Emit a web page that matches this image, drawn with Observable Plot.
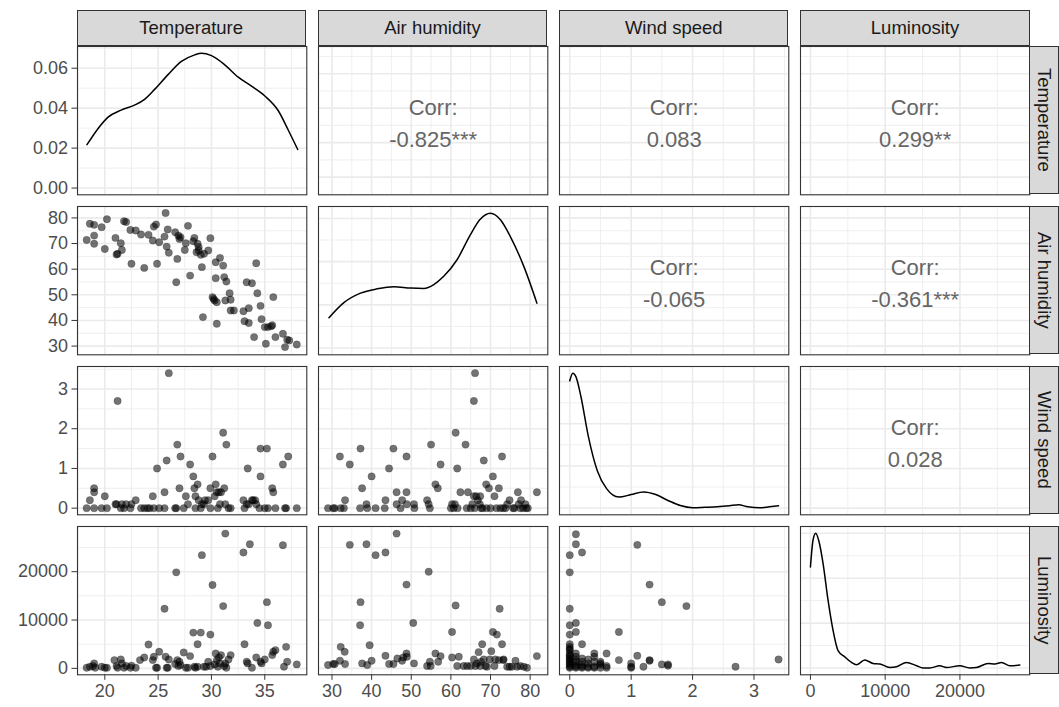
<!DOCTYPE html>
<html><head><meta charset="utf-8">
<script src="https://cdn.jsdelivr.net/npm/d3@7"></script>
<script src="https://cdn.jsdelivr.net/npm/@observablehq/plot@0.6"></script>
<style>
body{margin:0;background:#fff;font-family:"Liberation Sans",Arial,sans-serif;}
#chart{position:relative;width:1059px;height:707px;overflow:hidden;background:#fff;}
.strip{position:absolute;box-sizing:border-box;background:#d9d9d9;border:1px solid #333333;display:flex;align-items:center;justify-content:center;font-size:18.5px;color:#1a1a1a;font-family:"Liberation Sans",Arial,sans-serif;}
.strip.v{writing-mode:vertical-rl;}
#chart svg{position:absolute;overflow:visible;}
</style></head><body><div id="chart"></div>
<script>
// ---------- data ----------
const variables = ["Temperature", "Air humidity", "Wind speed", "Luminosity"];

const tempTicks = [20, 25, 30, 35];
const humTicks = [30, 40, 50, 60, 70, 80];
const windTicks = [0, 1, 2, 3];
const lumTicks = [0, 10000, 20000];
const densTicks = [0, 0.02, 0.04, 0.06];

const corrValues = ["-0.825***", "0.083", "0.299**", "-0.065", "-0.361***", "0.028"];
const corrPairs = [[0,1],[0,2],[0,3],[1,2],[1,3],[2,3]];

const tempDensity = [[18.33,0.0217],[19.34,0.0296],[20.28,0.0354],[21.53,0.039],[22.78,0.0415],[23.73,0.0444],[24.67,0.0494],[25.93,0.0568],[27.18,0.0634],[28.43,0.0667],[29.06,0.0675],[30.0,0.0663],[31.25,0.0617],[32.51,0.0555],[33.76,0.051],[35.01,0.0461],[36.27,0.0387],[37.22,0.0288],[38.09,0.0193]];
const humDensity = [[29.24,0.0070],[33.0,0.0105],[37.2,0.0127],[41.4,0.0137],[45.6,0.0142],[49.8,0.0139],[53.2,0.0138],[55.7,0.0147],[58.2,0.0166],[61.6,0.0205],[64.9,0.0262],[67.4,0.0298],[70.0,0.0312],[72.5,0.0297],[75.0,0.0258],[78.4,0.0189],[81.7,0.0104]];
const windDensity = [[0,1.51],[0.05,1.60],[0.1,1.56],[0.18,1.33],[0.3,0.86],[0.45,0.44],[0.6,0.23],[0.8,0.13],[1.0,0.16],[1.2,0.19],[1.4,0.16],[1.6,0.09],[1.8,0.03],[2.0,0.004],[2.2,0.009],[2.4,0.015],[2.6,0.027],[2.75,0.039],[2.9,0.015],[3.1,0.004],[3.25,0.015],[3.4,0.027]];
const lumDensity = [[0,2.25e-4],[348,2.85e-4],[710,3.0e-4],[1151,2.81e-4],[1687,2.33e-4],[2356,1.51e-4],[3025,0.84e-4],[3695,0.39e-4],[4592,0.25e-4],[5489,0.125e-4],[6158,0.074e-4],[7269,0.179e-4],[8380,0.103e-4],[9277,0.09e-4],[10616,0.013e-4],[11513,0.029e-4],[12851,0.125e-4],[14190,0.051e-4],[15074,0.003e-4],[15971,0.003e-4],[17309,0.051e-4],[18206,0.013e-4],[19987,0.051e-4],[21325,0.003e-4],[22222,0.013e-4],[23775,0.103e-4],[24672,0.09e-4],[25569,0.125e-4],[26680,0.051e-4],[28019,0.067e-4]];

const tempHum = [[18.3,71.4],[18.6,77.7],[19.0,77.3],[19.0,73.1],[19.0,69.9],[19.7,76.4],[20.0,67.9],[20.2,79.5],[21.0,72.2],[21.1,65.7],[21.2,66.0],[21.5,70.1],[21.6,67.5],[21.8,78.7],[22.0,78.4],[22.4,75.3],[22.5,62.1],[22.9,75.1],[23.4,73.5],[23.7,60.5],[24.1,73.4],[24.5,71.2],[24.6,76.6],[24.8,77.4],[24.9,62.1],[25.1,70.5],[25.6,72.7],[25.7,81.9],[25.8,68.8],[25.9,75.5],[26.0,66.4],[26.6,74.4],[26.7,54.9],[26.8,64.0],[26.9,73.1],[27.0,71.8],[27.1,72.5],[27.5,67.5],[27.6,70.1],[27.8,76.9],[28.0,57.5],[28.3,70.9],[28.4,72.2],[28.6,66.6],[28.7,69.9],[28.8,68.6],[28.8,67.3],[29.0,65.6],[29.1,60.8],[29.2,41.3],[29.3,66.0],[29.7,67.3],[29.9,72.1],[30.1,49.1],[30.3,47.8],[30.4,62.7],[30.4,56.5],[30.5,38.7],[30.8,64.4],[31.1,61.4],[31.2,56.9],[31.3,47.8],[31.4,55.2],[31.7,50.6],[31.8,48.1],[31.8,43.9],[33.0,43.6],[33.1,39.7],[33.3,54.9],[33.5,44.8],[33.5,39.0],[33.8,54.5],[34.0,33.5],[34.2,62.3],[34.3,50.6],[34.6,45.7],[34.7,40.5],[35.0,37.4],[35.1,30.9],[35.3,37.4],[35.6,37.7],[35.7,38.1],[35.8,49.1],[36.0,33.5],[36.7,34.8],[36.9,29.6],[37.1,32.5],[37.3,32.2],[38.0,30.6],[30.2,48.4],[30.5,47.1],[32.1,43.9]];

const tempWind = [[18.3,0],[18.6,0.2],[19.0,0.5],[19.0,0.4],[19.0,0],[19.7,0],[20.0,0.3],[20.2,0],[21.0,0.1],[21.1,0.1],[21.2,2.7],[21.5,0],[21.6,0.1],[21.8,0],[22.0,0.1],[22.4,0],[22.5,0.1],[22.9,0.2],[23.4,0],[23.7,0],[24.0,0],[24.2,0],[24.5,0.3],[24.6,0],[24.9,1.0],[25.1,0],[25.6,0],[25.6,0.4],[25.8,1.2],[26.0,3.4],[26.6,0],[26.7,0],[26.8,1.6],[27.0,0.5],[27.1,1.3],[27.4,0],[27.6,0.3],[27.8,0.1],[28.0,1.1],[28.3,0.8],[28.4,0.5],[28.5,0.3],[28.7,0.6],[28.8,0.2],[29.0,0],[29.1,0.1],[29.3,0.1],[29.4,0.2],[29.7,0.2],[29.9,0],[30.1,1.3],[30.3,0.3],[30.4,0.6],[30.5,0.4],[30.6,0],[30.7,0.4],[30.8,0.1],[30.9,0.4],[31.1,1.9],[31.2,0.5],[31.3,0.1],[31.4,1.6],[31.6,0],[31.8,0],[33.0,0.2],[33.1,0],[33.3,0.1],[33.4,1.0],[33.5,0.1],[33.8,0.2],[33.9,0.2],[34.1,0.2],[34.2,0.1],[34.5,0],[34.6,0.8],[34.6,1.5],[35.2,1.5],[35.0,0],[35.3,0],[35.7,0.5],[35.8,0.4],[36.0,0],[36.7,1.1],[36.9,0],[37.0,0],[37.2,1.3],[38.0,0],[29.9,0.5],[28.5,0]];

const tempLum = [[18.3,137],[18.6,342],[18.9,480],[19.0,1027],[19.1,137],[19.7,342],[20.0,137],[20.2,137],[20.9,1712],[21.1,480],[21.2,137],[21.5,1850],[21.6,1027],[21.8,137],[22.0,480],[22.4,137],[22.5,548],[22.9,137],[23.3,1712],[23.7,2260],[24.1,4932],[24.5,1712],[24.6,2397],[24.8,137],[24.9,137],[25.1,3425],[25.6,12330],[25.7,2397],[25.8,137],[25.9,137],[26.0,1850],[26.6,890],[26.7,19865],[26.8,1712],[26.9,480],[27.0,1370],[27.1,685],[27.4,3288],[27.6,137],[27.8,137],[28.0,2534],[28.3,7398],[28.4,342],[28.5,137],[28.7,5000],[28.7,342],[29.0,7398],[29.1,23427],[29.3,342],[29.5,342],[29.7,1370],[29.9,6987],[29.9,480],[30.1,17262],[30.3,822],[30.4,3082],[30.5,1712],[30.6,342],[30.7,2260],[30.8,1027],[30.9,2740],[31.1,12878],[31.2,480],[31.3,27880],[31.3,1027],[31.4,137],[31.6,1850],[31.8,2740],[33.0,23975],[33.1,5000],[33.3,1370],[33.4,1027],[33.6,25690],[33.8,137],[34.2,2260],[34.3,9385],[34.6,1370],[34.7,1027],[35.0,1850],[35.2,13700],[35.3,8905],[35.7,2740],[35.8,3425],[36.0,3767],[36.7,25482],[36.8,342],[37.0,4452],[37.1,1370],[38.0,822]];

const humWind = [[29.0,0],[30.3,0],[30.7,0],[32.2,0],[32.0,1.3],[33.0,0],[33.3,0.2],[34.5,1.1],[37.1,0],[37.2,1.5],[37.6,0.5],[38.7,0.1],[38.9,0],[40.0,0.8],[41.0,0],[43.3,0],[43.5,0.2],[44.4,1.0],[45.5,1.5],[46.3,0.4],[46.3,0.1],[47.3,0],[47.7,0.2],[48.8,0.4],[48.8,1.3],[48.9,0.1],[50.7,0.1],[50.8,0],[54.0,0.2],[54.4,0.1],[54.7,0],[55.0,1.6],[56.1,0.6],[56.7,0.5],[57.4,1.1],[60.3,0.1],[60.7,0],[61.2,1.9],[61.6,1.0],[61.7,0],[62.4,0.4],[63.7,1.6],[64.3,0.4],[65.0,0],[65.4,0.1],[65.8,2.7],[66.1,3.4],[66.4,0.3],[66.8,0.2],[67.3,0.1],[67.6,0],[68.3,1.2],[68.9,0.6],[69.6,0.5],[70.0,0],[70.6,0.8],[71.0,0.3],[71.5,0],[72.1,0.5],[72.5,0],[72.9,1.3],[73.2,0],[74.2,0.1],[74.8,0.2],[75.7,0],[76.9,0.4],[77.1,0.1],[77.7,0.2],[78.2,0],[78.8,0.1],[79.4,0],[81.7,0.4],[65.8,0.3],[67.4,0.3],[64.0,0],[66.0,0],[68.0,0],[69.0,0],[73.8,0],[76.0,0],[77.5,0],[79.0,0],[60.0,0],[61.0,0.1]];

const humLum = [[29.0,685],[30.3,890],[30.7,890],[32.0,1575],[32.2,4452],[33.2,3425],[33.3,890],[34.5,25550],[37.1,8905],[37.2,13700],[37.6,1027],[38.7,25690],[38.9,685],[39.5,4795],[40.0,1575],[41.0,23427],[43.5,23975],[43.5,2603],[44.4,890],[45.5,890],[46.3,27880],[46.5,2055],[47.7,1575],[48.0,2260],[48.8,3082],[48.8,17330],[48.9,2397],[50.5,9385],[50.7,1027],[54.0,480],[54.4,20002],[54.7,1370],[54.9,480],[56.1,3082],[56.8,1370],[57.4,2534],[60.3,7535],[60.3,2260],[61.2,13015],[61.6,480],[62.0,2397],[63.2,480],[64.1,480],[65.0,480],[65.8,1850],[66.2,480],[67.0,3356],[67.4,480],[67.9,5000],[68.3,1850],[68.7,480],[69.1,342],[69.8,1850],[70.2,3562],[70.6,7535],[71.0,480],[71.2,1850],[71.6,6987],[72.1,1712],[72.3,12330],[72.9,5000],[73.2,1712],[73.3,1850],[74.2,342],[74.8,342],[75.4,342],[76.3,1575],[76.7,342],[77.5,480],[78.4,342],[79.2,137],[81.7,2534],[66.6,1027],[67.6,1370]];

const windLum = [[0.1,27742],[0.1,25690],[0,23427],[0.2,23975],[0,19865],[0,12330],[0,8905],[0,6987],[0.1,9385],[0.1,7535],[0.2,5000],[0,5000],[0,4452],[0,3767],[0,3082],[0,2397],[0,1712],[0,1027],[0,342],[0.1,2397],[0.1,1370],[0.1,342],[0.2,1370],[0.2,342],[0.3,1850],[0.3,342],[0.4,3082],[0.4,2397],[0.4,1370],[0.4,342],[0.5,1370],[0.5,685],[0.6,3082],[0.6,480],[0.8,1712],[0.8,7535],[1.0,1027],[1.0,342],[1.1,25550],[1.1,2603],[1.2,342],[1.3,17330],[1.3,1575],[1.3,1712],[1.5,822],[1.5,13700],[1.6,822],[1.6,548],[1.9,12878],[2.7,342],[3.4,1850],[0,4000],[0,2700],[0,2000],[0,1370],[0,685],[0.1,3082],[0.1,1712],[0.1,685],[0.2,685],[0.2,2055],[0.3,1027],[0.5,1027],[0,137],[0.1,137],[0.2,137],[0.3,137],[0.4,137],[0.5,137],[0.6,137],[1.0,137]];

// ---------- scales & layout ----------
const domains = [[17.44, 38.94], [26.6, 84.45], [-0.167, 3.567], [-1330, 29350]];
const majors = [tempTicks, humTicks, windTicks, lumTicks];
const minors = [[17.5,22.5,27.5,32.5,37.5],[35,45,55,65,75],[0.5,1.5,2.5,3.5],[5000,15000,25000]];
const formats = [d3.format("d"), d3.format("d"), d3.format("d"), d3.format("d")];
const densities = [tempDensity, humDensity, windDensity, lumDensity];
const densMajor = [densTicks, [0,0.01,0.02,0.03], [0,0.5,1,1.5], [0,1e-4,2e-4,3e-4]];
const densMinor = [[0.01,0.03,0.05,0.07], [0.005,0.015,0.025], [0.25,0.75,1.25], [5e-5,1.5e-4,2.5e-4]];

const scatter = {"1-0": tempHum, "2-0": tempWind, "3-0": tempLum, "2-1": humWind, "3-1": humLum, "3-2": windLum};
const corrMap = {};
corrPairs.forEach((p, i) => corrMap[p[0] + "-" + p[1]] = corrValues[i]);

const W = 229.3, H = 148.3;
const colX = [76.5, 317.8, 559.1, 800.4];
const rowY = [45.7, 205.7, 365.7, 525.7];
const stripTop = 9.5;
const chart = document.getElementById("chart");
const FONT = "Liberation Sans, Arial, sans-serif";
const gridColor = "#ebebeb";

function panel(r, c) {
  const ml = c === 0 ? 77 : 2, mb = r === 3 ? 36 : 2, mt = 2, mr = 2;
  const diag = r === c;
  let yDom, yMaj, yMin;
  if (diag) {
    const m = d3.max(densities[r], d => d[1]);
    yDom = [-0.05 * m, 1.05 * m];
    yMaj = densMajor[r]; yMin = densMinor[r];
  } else {
    yDom = domains[r]; yMaj = majors[r]; yMin = minors[r];
  }
  const marks = [
    Plot.ruleX(minors[c], {stroke: gridColor, strokeWidth: 0.8}),
    Plot.ruleY(yMin, {stroke: gridColor, strokeWidth: 0.8}),
    Plot.ruleX(majors[c], {stroke: gridColor, strokeWidth: 1.6}),
    Plot.ruleY(yMaj, {stroke: gridColor, strokeWidth: 1.6})
  ];
  if (diag) {
    marks.push(Plot.line(densities[r], {x: d => d[0], y: d => d[1], stroke: "black", strokeWidth: 1.5, curve: "monotone-x"}));
  } else if (r > c) {
    marks.push(Plot.dot(scatter[r + "-" + c], {x: d => d[0], y: d => d[1], r: 3.7, fill: "black", fillOpacity: 0.55, stroke: "black", strokeOpacity: 0.3, strokeWidth: 0.6}));
  } else {
    marks.push(Plot.text(["Corr:\n" + corrMap[r + "-" + c]], {frameAnchor: "middle", text: d => d, fontSize: 22, lineHeight: 1.45, fill: "#666666", fontFamily: FONT}));
  }
  marks.push(Plot.frame({stroke: "#333333", strokeWidth: 1.1}));
  const hasY = c === 0, hasX = r === 3;
  if (hasY) {
    marks.push(Plot.axisY(yMaj, {anchor: "left", tickSize: 5.5, tickPadding: 4, fontSize: 18, stroke: "#333333", fill: "#4d4d4d", label: null,
      tickFormat: r === 0 ? d3.format(".2f") : formats[r]}));
  }
  if (hasX) {
    marks.push(Plot.axisX(majors[c], {anchor: "bottom", tickSize: 5.5, tickPadding: 4, fontSize: 18, stroke: "#333333", fill: "#4d4d4d", label: null, tickFormat: formats[c]}));
  }
  const xOpt = {domain: domains[c]};
  if (!hasX) xOpt.axis = null;
  const yOpt = {domain: yDom};
  if (!hasY) yOpt.axis = null;
  const svg = Plot.plot({
    width: W + ml + mr, height: H + mt + mb,
    marginLeft: ml, marginRight: mr, marginTop: mt, marginBottom: mb,
    x: xOpt, y: yOpt,
    style: {fontFamily: FONT, background: "transparent", overflow: "visible", color: "#4d4d4d"},
    marks
  });
  svg.style.left = (colX[c] - ml) + "px";
  svg.style.top = (rowY[r] - mt) + "px";
  chart.appendChild(svg);
}

for (let r = 0; r < 4; r++) for (let c = 0; c < 4; c++) panel(r, c);

// strips
variables.forEach((v, i) => {
  const t = document.createElement("div");
  t.className = "strip";
  t.style.left = colX[i] + "px"; t.style.top = stripTop + "px";
  t.style.width = W + "px"; t.style.height = (rowY[0] - stripTop + 0.5) + "px";
  t.textContent = v;
  chart.appendChild(t);
  const s = document.createElement("div");
  s.className = "strip v";
  s.style.left = (colX[3] + W - 0.5) + "px"; s.style.top = rowY[i] + "px";
  s.style.width = (1059 - colX[3] - W + 0.5) + "px"; s.style.height = H + "px";
  s.textContent = v;
  chart.appendChild(s);
});
</script>
</body></html>
